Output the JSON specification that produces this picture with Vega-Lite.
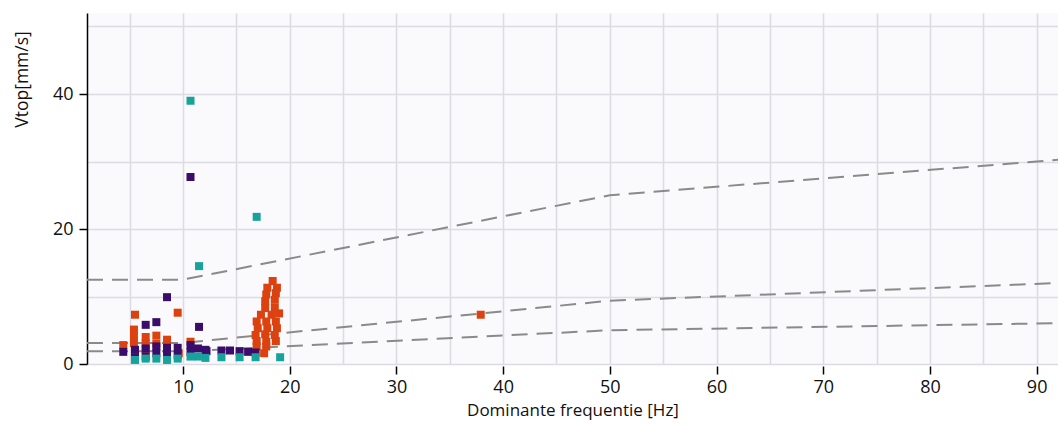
{
  "$schema": "https://vega.github.io/schema/vega-lite/v6.json",
  "width": 971,
  "height": 351,
  "autosize": {"type": "none"},
  "padding": {"left": 87, "top": 13, "right": 0, "bottom": 59},
  "background": "#ffffff",
  "config": {
    "view": {"fill": "#fafafc", "stroke": null},
    "font": "Open Sans"
  },
  "datasets": {
    "limits": [
      {"series": "top", "f": 1, "v": 12.5},
      {"series": "top", "f": 10, "v": 12.5},
      {"series": "top", "f": 50, "v": 25},
      {"series": "top", "f": 100, "v": 31.25},
      {"series": "mid", "f": 1, "v": 3.125},
      {"series": "mid", "f": 10, "v": 3.125},
      {"series": "mid", "f": 50, "v": 9.375},
      {"series": "mid", "f": 100, "v": 12.5},
      {"series": "low", "f": 1, "v": 1.875},
      {"series": "low", "f": 10, "v": 1.875},
      {"series": "low", "f": 50, "v": 5},
      {"series": "low", "f": 100, "v": 6.25}
    ],
    "points": [
      {"cat": "X", "f": 37.9, "v": 7.3},
      {"cat": "X", "f": 5.5, "v": 7.3},
      {"cat": "X", "f": 9.5, "v": 7.6},
      {"cat": "X", "f": 5.4, "v": 5.1},
      {"cat": "X", "f": 5.4, "v": 4.1},
      {"cat": "X", "f": 5.4, "v": 3.1},
      {"cat": "X", "f": 4.4, "v": 2.8},
      {"cat": "X", "f": 6.5, "v": 4.0},
      {"cat": "X", "f": 6.5, "v": 3.1},
      {"cat": "X", "f": 6.5, "v": 2.1},
      {"cat": "X", "f": 7.5, "v": 4.2},
      {"cat": "X", "f": 7.5, "v": 3.0},
      {"cat": "X", "f": 8.5, "v": 3.6},
      {"cat": "X", "f": 8.5, "v": 2.9},
      {"cat": "X", "f": 9.6, "v": 1.6},
      {"cat": "X", "f": 10.7, "v": 3.3},
      {"cat": "X", "f": 18.4, "v": 12.3},
      {"cat": "X", "f": 17.9, "v": 11.3},
      {"cat": "X", "f": 18.8, "v": 11.3},
      {"cat": "X", "f": 17.8, "v": 10.3},
      {"cat": "X", "f": 18.7, "v": 10.5},
      {"cat": "X", "f": 17.7, "v": 9.3},
      {"cat": "X", "f": 18.6, "v": 9.5},
      {"cat": "X", "f": 17.7, "v": 8.3},
      {"cat": "X", "f": 18.6, "v": 8.3},
      {"cat": "X", "f": 17.3, "v": 7.3},
      {"cat": "X", "f": 18.3, "v": 7.3},
      {"cat": "X", "f": 19.0, "v": 7.5},
      {"cat": "X", "f": 16.9, "v": 6.3},
      {"cat": "X", "f": 17.8, "v": 6.3},
      {"cat": "X", "f": 18.7, "v": 6.3},
      {"cat": "X", "f": 17.0, "v": 5.3},
      {"cat": "X", "f": 17.9, "v": 5.3},
      {"cat": "X", "f": 18.8, "v": 5.3},
      {"cat": "X", "f": 16.8, "v": 4.3},
      {"cat": "X", "f": 17.7, "v": 4.4},
      {"cat": "X", "f": 18.6, "v": 4.3},
      {"cat": "X", "f": 16.9, "v": 3.4},
      {"cat": "X", "f": 17.8, "v": 3.3},
      {"cat": "X", "f": 18.7, "v": 3.4},
      {"cat": "X", "f": 16.9, "v": 2.6},
      {"cat": "X", "f": 17.8, "v": 2.6},
      {"cat": "X", "f": 17.6, "v": 1.6},
      {"cat": "Y", "f": 10.7, "v": 27.7},
      {"cat": "Y", "f": 8.5, "v": 9.9},
      {"cat": "Y", "f": 6.5, "v": 5.8},
      {"cat": "Y", "f": 7.5, "v": 6.2},
      {"cat": "Y", "f": 11.5, "v": 5.5},
      {"cat": "Y", "f": 4.4, "v": 1.8},
      {"cat": "Y", "f": 5.5, "v": 2.1},
      {"cat": "Y", "f": 5.5, "v": 1.0},
      {"cat": "Y", "f": 6.5, "v": 2.3},
      {"cat": "Y", "f": 6.5, "v": 1.1},
      {"cat": "Y", "f": 7.5, "v": 2.6},
      {"cat": "Y", "f": 7.5, "v": 1.6},
      {"cat": "Y", "f": 8.5, "v": 2.4},
      {"cat": "Y", "f": 8.5, "v": 1.5},
      {"cat": "Y", "f": 9.5, "v": 2.4},
      {"cat": "Y", "f": 9.5, "v": 1.3},
      {"cat": "Y", "f": 10.7, "v": 2.8},
      {"cat": "Y", "f": 10.7, "v": 1.8},
      {"cat": "Y", "f": 11.4, "v": 2.3},
      {"cat": "Y", "f": 12.1, "v": 2.1},
      {"cat": "Y", "f": 12.2, "v": 1.9},
      {"cat": "Y", "f": 13.6, "v": 2.0},
      {"cat": "Y", "f": 14.4, "v": 2.0},
      {"cat": "Y", "f": 15.3, "v": 1.9},
      {"cat": "Y", "f": 16.1, "v": 1.8},
      {"cat": "Y", "f": 16.8, "v": 1.7},
      {"cat": "Z", "f": 10.7, "v": 39.0},
      {"cat": "Z", "f": 16.9, "v": 21.8},
      {"cat": "Z", "f": 11.5, "v": 14.5},
      {"cat": "Z", "f": 19.1, "v": 1.0},
      {"cat": "Z", "f": 5.5, "v": 0.6},
      {"cat": "Z", "f": 6.5, "v": 0.8},
      {"cat": "Z", "f": 7.5, "v": 0.8},
      {"cat": "Z", "f": 8.5, "v": 0.6},
      {"cat": "Z", "f": 9.5, "v": 0.8},
      {"cat": "Z", "f": 10.7, "v": 1.1},
      {"cat": "Z", "f": 11.4, "v": 1.1},
      {"cat": "Z", "f": 12.1, "v": 0.9},
      {"cat": "Z", "f": 13.6, "v": 1.0},
      {"cat": "Z", "f": 15.3, "v": 1.0},
      {"cat": "Z", "f": 16.8, "v": 1.0}
    ]
  },
  "encoding": {
    "x": {
      "field": "f",
      "type": "quantitative",
      "scale": {"domain": [1, 92], "nice": false, "zero": false},
      "axis": {
        "title": "Dominante frequentie [Hz]",
        "values": [5, 10, 15, 20, 25, 30, 35, 40, 45, 50, 55, 60, 65, 70, 75, 80, 85, 90],
        "labelExpr": "datum.value % 10 === 0 ? datum.label : ''",
        "domain": false,
        "offset": 2,
        "tickSize": 8,
        "tickColor": "#000000",
        "tickWidth": 1.5,
        "tickOpacity": {"condition": {"test": "datum.value % 10 === 0", "value": 1}, "value": 0},
        "grid": true,
        "gridColor": "#dcdce2",
        "gridWidth": 1.5,
        "labelFont": "Open Sans",
        "labelFontSize": 18,
        "labelColor": "#111111",
        "labelPadding": 4,
        "titleFont": "Open Sans",
        "titleFontSize": 17,
        "titleFontWeight": "normal",
        "titleColor": "#111111",
        "titlePadding": 6
      }
    },
    "y": {
      "field": "v",
      "type": "quantitative",
      "scale": {"domain": [0, 52], "nice": false},
      "axis": {
        "title": "Vtop[mm/s]",
        "values": [0, 10, 20, 30, 40, 50],
        "labelExpr": "datum.value % 20 === 0 ? datum.label : ''",
        "domain": true,
        "domainColor": "#000000",
        "domainWidth": 1.5,
        "tickSize": 8,
        "tickColor": "#000000",
        "tickWidth": 1.5,
        "tickOpacity": {"condition": {"test": "datum.value % 20 === 0", "value": 1}, "value": 0},
        "grid": true,
        "gridColor": "#dcdce2",
        "gridWidth": 1.5,
        "labelFont": "Open Sans",
        "labelFontSize": 18,
        "labelColor": "#111111",
        "labelPadding": 6,
        "titleFont": "Open Sans",
        "titleFontSize": 17.5,
        "titleFontWeight": "normal",
        "titleColor": "#111111",
        "titleX": -65,
        "titleY": 66,
        "titleAlign": "center",
        "titleBaseline": "middle"
      }
    }
  },
  "layer": [
    {
      "data": {"name": "limits"},
      "mark": {"type": "line", "clip": true, "color": "#8a8a8a", "strokeWidth": 2, "strokeDash": [16, 9]},
      "encoding": {"detail": {"field": "series", "type": "nominal"}}
    },
    {
      "data": {"name": "points"},
      "mark": {"type": "point", "shape": "square", "filled": true, "opacity": 1, "size": 64},
      "encoding": {
        "color": {
          "field": "cat",
          "type": "nominal",
          "scale": {"domain": ["X", "Y", "Z"], "range": ["#dc4210", "#3a0c6b", "#17a39b"]},
          "legend": null
        },
        "order": {"value": 0}
      }
    }
  ]
}
